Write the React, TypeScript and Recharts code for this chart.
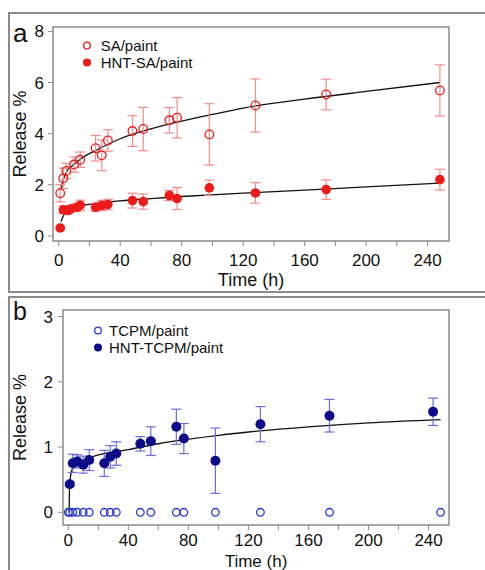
import {
  ComposedChart,
  ErrorBar,
  Legend,
  Line,
  ReferenceArea,
  Scatter,
  XAxis,
  YAxis
} from "recharts";

const FONT = '"Liberation Sans", Arial, Helvetica, sans-serif';

// ---- panel a: SA release ----
const saTime = [1, 3, 5, 10, 14, 24, 28, 32, 48, 55, 72, 77, 98, 128, 174, 248];
const saRelease = [1.67, 2.25, 2.54, 2.79, 2.98, 3.43, 3.15, 3.73, 4.1, 4.18, 4.52, 4.62, 3.97, 5.1, 5.53, 5.69];
const saError = [0.34, 0.4, 0.3, 0.3, 0.3, 0.5, 0.6, 0.42, 0.6, 0.85, 0.5, 0.79, 1.2, 1.04, 0.6, 1.0];

const hntSaTime = [1, 3, 6, 8, 12, 14, 24, 28, 32, 48, 55, 72, 77, 98, 128, 174, 248];
const hntSaRelease = [0.31, 1.02, 0.99, 1.06, 1.12, 1.2, 1.12, 1.19, 1.23, 1.38, 1.34, 1.58, 1.46, 1.88, 1.68, 1.81, 2.2];
const hntSaError = [0.06, 0.15, 0.12, 0.12, 0.15, 0.2, 0.15, 0.2, 0.2, 0.29, 0.3, 0.2, 0.43, 0.3, 0.4, 0.38, 0.41];

// fitted curves
const saFitTime = [1.5, 3, 5, 10, 16, 24, 40, 60, 80, 100, 120, 160, 200, 248];
const saFitValue = [1.8, 2.2, 2.5, 2.8, 3.08, 3.34, 3.8, 4.19, 4.49, 4.75, 5.0, 5.35, 5.65, 6.0];
const hntSaFitTime = [1.5, 3, 5, 8, 12, 16, 24, 40, 60, 80, 120, 160, 200, 248];
const hntSaFitValue = [0.55, 0.78, 0.92, 1.05, 1.14, 1.2, 1.27, 1.37, 1.46, 1.54, 1.67, 1.79, 1.92, 2.06];

// ---- panel b: TCPM release ----
const tcpmTime = [0, 1, 3, 6, 10, 14, 24, 28, 32, 48, 55, 72, 77, 98, 128, 174, 248];
const tcpmRelease = [0, 0, 0, 0, 0, 0, 0, 0, 0, 0, 0, 0, 0, 0, 0, 0, 0];

const hntTcpmTime = [1, 3, 6, 10, 14, 24, 28, 32, 48, 55, 72, 77, 98, 128, 174, 243];
const hntTcpmRelease = [0.43, 0.75, 0.78, 0.73, 0.8, 0.75, 0.85, 0.9, 1.05, 1.09, 1.31, 1.13, 0.79, 1.35, 1.48, 1.54];
const hntTcpmError = [0.03, 0.14, 0.1, 0.13, 0.16, 0.2, 0.17, 0.18, 0.11, 0.22, 0.27, 0.23, 0.5, 0.27, 0.25, 0.21];

const hntTcpmFitTime = [0.6, 0.8, 1, 1.5, 3, 6, 10, 20, 40, 60, 80, 100, 120, 160, 200, 248];
const hntTcpmFitValue = [0, 0.35, 0.45, 0.55, 0.68, 0.76, 0.8, 0.88, 0.96, 1.05, 1.12, 1.18, 1.23, 1.31, 1.37, 1.42];

const timeTicks = [0, 20, 40, 60, 80, 100, 120, 140, 160, 180, 200, 220, 240];
const aTicks = [0, 2, 4, 6, 8];
const bTicks = [0, 1, 2, 3];

const zip = (xs: number[], ys: number[], es?: number[]) =>
  xs.map((x, i) => ({ x, y: ys[i], err: es ? es[i] : 0 }));

const RED = "#ee1a1a";
const RED_ERR = "#f58c8c";
const NAVY = "#0c0c8a";
const BLUE_OPEN = "#2436d0";
const BLUE_ERR = "#6c6ce0";
const AXIS = "#8a8a8a";

const openDot = (color: string, r: number) => (p: any) =>
  <circle cx={p.cx} cy={p.cy} r={r} fill="none" stroke={color} strokeWidth={1.3} />;
const fullDot = (color: string, r: number) => (p: any) =>
  <circle cx={p.cx} cy={p.cy} r={r} fill={color} stroke="none" />;

type LegendItem = { name: string; color: string; open: boolean };

function LegendBox({ items, gap }: { items: LegendItem[]; gap: number }) {
  return (
    <div style={{ fontFamily: FONT, fontSize: 15, lineHeight: "17px", color: "#111" }}>
      {items.map((it) => (
        <div key={it.name} style={{ display: "flex", alignItems: "center", height: 17 }}>
          <svg width={14} height={17} style={{ display: "block" }}>
            {it.open ? (
              <circle cx={7} cy={8.5} r={3.3} fill="none" stroke={it.color} strokeWidth={1.3} />
            ) : (
              <circle cx={7} cy={8.5} r={4} fill={it.color} />
            )}
          </svg>
          <span style={{ marginLeft: gap, whiteSpace: "nowrap" }}>{it.name}</span>
        </div>
      ))}
    </div>
  );
}

const tickStyle = { fontSize: 17, fill: "#111", fontFamily: FONT };
const fmtTime = (v: number) => (v % 40 === 0 ? String(v) : "");

function PanelA() {
  const xDom: [number, number] = [-3.7, 253.9];
  const yDom: [number, number] = [-0.2, 8.17];
  return (
    <ComposedChart width={485} height={290} margin={{ top: 27, right: 36, left: 8, bottom: 19 }}>
      <XAxis
        type="number"
        dataKey="x"
        domain={xDom}
        allowDataOverflow
        ticks={timeTicks}
        tickFormatter={fmtTime}
        interval={0}
        height={30}
        axisLine={false}
        tickLine={{ stroke: AXIS }}
        tickSize={5}
        tickMargin={8}
        tick={tickStyle}
        label={{ value: "Time (h)", position: "insideBottom", offset: -15, style: { fontSize: 18, fill: "#111", fontFamily: FONT } }}
      />
      <YAxis
        type="number"
        dataKey="y"
        domain={yDom}
        allowDataOverflow
        ticks={aTicks}
        interval={0}
        width={45}
        axisLine={false}
        tickLine={{ stroke: AXIS }}
        tickSize={5}
        tickMargin={4}
        tick={tickStyle}
        label={{ value: "Release %", angle: -90, position: "insideLeft", offset: 12, style: { fontSize: 18, fill: "#111", fontFamily: FONT, textAnchor: "middle" } }}
      />
      <ReferenceArea x1={xDom[0]} x2={xDom[1]} y1={yDom[0]} y2={yDom[1]} fill="none" stroke={AXIS} strokeWidth={1.5} ifOverflow="visible" />
      <Line data={zip(saFitTime, saFitValue)} dataKey="y" type="monotone" dot={false} stroke="#111" strokeWidth={1.3} isAnimationActive={false} />
      <Line data={zip(hntSaFitTime, hntSaFitValue)} dataKey="y" type="monotone" dot={false} stroke="#111" strokeWidth={1.3} isAnimationActive={false} />
      <Scatter name="SA/paint" data={zip(saTime, saRelease, saError)} dataKey="y" shape={openDot(RED, 4.3)} isAnimationActive={false}>
        <ErrorBar dataKey="err" direction="y" width={5} stroke={RED_ERR} strokeWidth={1.2} />
      </Scatter>
      <Scatter name="HNT-SA/paint" data={zip(hntSaTime, hntSaRelease, hntSaError)} dataKey="y" shape={fullDot(RED, 4.8)} isAnimationActive={false}>
        <ErrorBar dataKey="err" direction="y" width={5} stroke={RED_ERR} strokeWidth={1.2} />
      </Scatter>
      <Legend
        layout="vertical"
        align="center"
        verticalAlign="middle"
        wrapperStyle={{ left: 80.3, top: 36.8, width: "auto", height: "auto" }}
        content={() => (
          <LegendBox
            gap={6.4}
            items={[
              { name: "SA/paint", color: RED, open: true },
              { name: "HNT-SA/paint", color: RED, open: false }
            ]}
          />
        )}
      />
    </ComposedChart>
  );
}

function PanelB() {
  const xDom: [number, number] = [-3.5, 253.6];
  const yDom: [number, number] = [-0.195, 3.1];
  return (
    <ComposedChart width={485} height={280} margin={{ top: 20, right: 36, left: 8, bottom: 15 }}>
      <XAxis
        type="number"
        dataKey="x"
        domain={xDom}
        allowDataOverflow
        ticks={timeTicks}
        tickFormatter={fmtTime}
        interval={0}
        height={30}
        axisLine={false}
        tickLine={{ stroke: AXIS }}
        tickSize={5}
        tickMargin={4}
        tick={tickStyle}
        label={{ value: "Time (h)", position: "insideBottom", offset: -12, style: { fontSize: 17, fill: "#111", fontFamily: FONT } }}
      />
      <YAxis
        type="number"
        dataKey="y"
        domain={yDom}
        allowDataOverflow
        ticks={bTicks}
        interval={0}
        width={55}
        axisLine={false}
        tickLine={{ stroke: AXIS }}
        tickSize={5}
        tickMargin={5}
        tick={tickStyle}
        label={{ value: "Release %", angle: -90, position: "insideLeft", offset: 12, style: { fontSize: 18, fill: "#111", fontFamily: FONT, textAnchor: "middle" } }}
      />
      <ReferenceArea x1={xDom[0]} x2={xDom[1]} y1={yDom[0]} y2={yDom[1]} fill="none" stroke={AXIS} strokeWidth={1.5} ifOverflow="visible" />
      <Line data={zip(hntTcpmFitTime, hntTcpmFitValue)} dataKey="y" type="monotone" dot={false} stroke="#111" strokeWidth={1.3} isAnimationActive={false} />
      <Scatter name="TCPM/paint" data={zip(tcpmTime, tcpmRelease)} dataKey="y" shape={openDot(BLUE_OPEN, 3.8)} isAnimationActive={false} />
      <Scatter name="HNT-TCPM/paint" data={zip(hntTcpmTime, hntTcpmRelease, hntTcpmError)} dataKey="y" shape={fullDot(NAVY, 5)} isAnimationActive={false}>
        <ErrorBar dataKey="err" direction="y" width={5} stroke={BLUE_ERR} strokeWidth={1.2} />
      </Scatter>
      <Legend
        layout="vertical"
        align="center"
        verticalAlign="middle"
        wrapperStyle={{ left: 90.7, top: 31.5, width: "auto", height: "auto" }}
        content={() => (
          <LegendBox
            gap={4.3}
            items={[
              { name: "TCPM/paint", color: BLUE_OPEN, open: true },
              { name: "HNT-TCPM/paint", color: NAVY, open: false }
            ]}
          />
        )}
      />
    </ComposedChart>
  );
}

export default function App() {
  return (
    <div style={{ position: "absolute", left: 0, top: 0, width: 485, height: 570, overflow: "hidden", background: "#fff", fontFamily: FONT }}>
      <div style={{ position: "absolute", left: 8, top: 12, width: 500, height: 277, border: `2px solid ${AXIS}` }} />
      <div style={{ position: "absolute", left: 8, top: 296, width: 500, height: 300, border: `2px solid ${AXIS}` }} />
      <div style={{ position: "absolute", left: 0, top: 0 }}>
        <PanelA />
      </div>
      <div style={{ position: "absolute", left: 0, top: 290 }}>
        <PanelB />
      </div>
      <div style={{ position: "absolute", left: 13, top: 20, fontSize: 26, lineHeight: 1, color: "#111" }}>a</div>
      <div style={{ position: "absolute", left: 13, top: 299, fontSize: 25, lineHeight: 1, color: "#111" }}>b</div>
    </div>
  );
}
